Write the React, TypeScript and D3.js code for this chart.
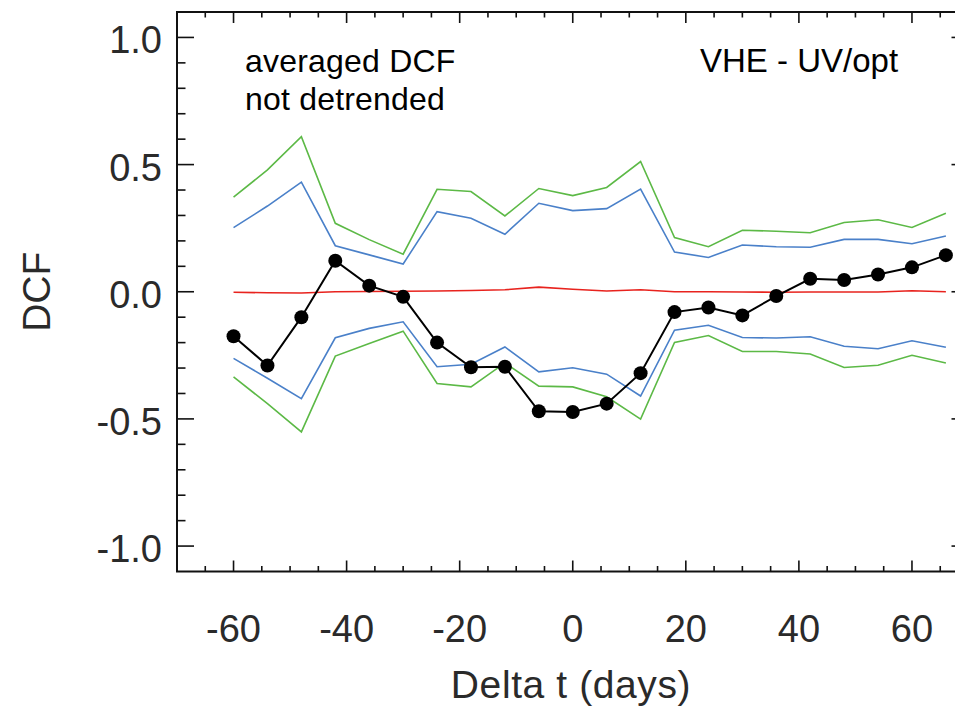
import React from "react";
import * as d3 from "d3";

const lags = [-60, -54, -48, -42, -36, -30, -24, -18, -12, -6, 0, 6, 12, 18, 24, 30, 36, 42, 48, 54, 60, 66];
const dcf = [-0.175, -0.29, -0.1, 0.122, 0.024, -0.02, -0.2, -0.297, -0.295, -0.47, -0.473, -0.44, -0.32, -0.08, -0.062, -0.093, -0.017, 0.051, 0.046, 0.068, 0.096, 0.144];
const meanSim = [-0.002, -0.004, -0.005, 0.0, 0.001, 0.002, 0.003, 0.005, 0.008, 0.018, 0.01, 0.003, 0.008, 0.0, 0.0, -0.001, -0.002, -0.001, -0.001, -0.001, 0.004, 0.0];
const blueUpper = [0.252, 0.337, 0.431, 0.181, 0.145, 0.109, 0.315, 0.289, 0.226, 0.348, 0.319, 0.327, 0.404, 0.156, 0.135, 0.184, 0.177, 0.175, 0.206, 0.206, 0.189, 0.219];
const blueLower = [-0.262, -0.34, -0.42, -0.181, -0.144, -0.118, -0.295, -0.285, -0.217, -0.315, -0.299, -0.324, -0.41, -0.151, -0.132, -0.18, -0.182, -0.177, -0.214, -0.224, -0.193, -0.218];
const greenUpper = [0.372, 0.479, 0.61, 0.269, 0.205, 0.148, 0.403, 0.394, 0.298, 0.406, 0.378, 0.41, 0.512, 0.213, 0.177, 0.242, 0.238, 0.232, 0.272, 0.283, 0.253, 0.309];
const greenLower = [-0.335, -0.44, -0.551, -0.253, -0.203, -0.155, -0.361, -0.374, -0.28, -0.371, -0.374, -0.413, -0.501, -0.199, -0.172, -0.235, -0.235, -0.245, -0.298, -0.289, -0.25, -0.28];

const xMajorTicks = [-60, -40, -20, 0, 20, 40, 60];
const xTickLabels = ["-60", "-40", "-20", "0", "20", "40", "60"];
const yMajorTicks = [-1.0, -0.5, 0.0, 0.5, 1.0];
const yTickLabels = ["-1.0", "-0.5", "0.0", "0.5", "1.0"];

const FONT = "'Liberation Sans', Arial, Helvetica, sans-serif";

export default function App() {
  const W = 955, H = 710;
  const x = d3.scaleLinear().domain([-70, 70]).range([177, 968.5]);
  const y = d3.scaleLinear().domain([-1.1, 1.1]).range([571.5, 12]);
  const [x0, x1] = x.range();
  const [yb, yt] = y.range();

  const mk = (vals: number[]) =>
    d3.line<number>().x((_, i) => x(lags[i])).y((v) => y(v))(vals) || "";

  const xMinor = d3.range(-70, 71, 5).filter((v) => !xMajorTicks.includes(v) && v > -70 && v < 70);
  const yMinor = d3.range(-11, 12, 1).map((v) => v / 10).filter((v) => Math.abs(v) < 1.1 - 1e-9 && Math.abs(v * 2 - Math.round(v * 2)) > 1e-9);

  const axisColor = "#111";
  return (
    <svg width={W} height={H} style={{ position: "absolute", left: 0, top: 0, background: "#fff" }} fontFamily={FONT}>
      <rect x={0} y={0} width={W} height={H} fill="#fff" />
      {/* series */}
      <path d={mk(greenUpper)} fill="none" stroke="#5cb946" strokeWidth={1.6} />
      <path d={mk(greenLower)} fill="none" stroke="#5cb946" strokeWidth={1.6} />
      <path d={mk(blueUpper)} fill="none" stroke="#4a80c9" strokeWidth={1.6} />
      <path d={mk(blueLower)} fill="none" stroke="#4a80c9" strokeWidth={1.6} />
      <path d={mk(meanSim)} fill="none" stroke="#e8231e" strokeWidth={1.6} />
      <path d={mk(dcf)} fill="none" stroke="#000" strokeWidth={2} />
      {dcf.map((v, i) => (
        <circle key={i} cx={x(lags[i])} cy={y(v)} r={7} fill="#000" />
      ))}
      {/* frame */}
      <rect x={x0} y={yt} width={x1 - x0} height={yb - yt} fill="none" stroke={axisColor} strokeWidth={2} />
      {/* x ticks */}
      {xMajorTicks.map((t) => (
        <g key={"xm" + t}>
          <line x1={x(t)} x2={x(t)} y1={yb} y2={yb - 11} stroke={axisColor} strokeWidth={1.6} />
          <line x1={x(t)} x2={x(t)} y1={yt} y2={yt + 11} stroke={axisColor} strokeWidth={1.6} />
        </g>
      ))}
      {xMinor.map((t) => (
        <g key={"xn" + t}>
          <line x1={x(t)} x2={x(t)} y1={yb} y2={yb - 5.5} stroke={axisColor} strokeWidth={1.6} />
          <line x1={x(t)} x2={x(t)} y1={yt} y2={yt + 5.5} stroke={axisColor} strokeWidth={1.6} />
        </g>
      ))}
      {/* y ticks */}
      {yMajorTicks.map((t) => (
        <g key={"ym" + t}>
          <line x1={x0} x2={x0 + 17} y1={y(t)} y2={y(t)} stroke={axisColor} strokeWidth={1.6} />
          <line x1={x1} x2={x1 - 17} y1={y(t)} y2={y(t)} stroke={axisColor} strokeWidth={1.6} />
        </g>
      ))}
      {yMinor.map((t) => (
        <g key={"yn" + t}>
          <line x1={x0} x2={x0 + 8.5} y1={y(t)} y2={y(t)} stroke={axisColor} strokeWidth={1.6} />
          <line x1={x1} x2={x1 - 8.5} y1={y(t)} y2={y(t)} stroke={axisColor} strokeWidth={1.6} />
        </g>
      ))}
      {/* tick labels */}
      {xMajorTicks.map((t, i) => (
        <text key={"xl" + t} x={x(t)} y={642} textAnchor="middle" fontSize={38} fill="#2a2a2a">
          {xTickLabels[i]}
        </text>
      ))}
      {yMajorTicks.map((t, i) => (
        <text key={"yl" + t} x={162} y={y(t) + 16} textAnchor="end" fontSize={38} fill="#2a2a2a">
          {yTickLabels[i]}
        </text>
      ))}
      {/* axis titles */}
      <text x={571} y={698} textAnchor="middle" fontSize={39} letterSpacing={0.6} fill="#2a2a2a">Delta t (days)</text>
      <text transform={`translate(50, ${y(0)}) rotate(-90)`} textAnchor="middle" fontSize={39} fill="#2a2a2a">DCF</text>
      {/* annotations */}
      <text x={245} y={72} fontSize={32} letterSpacing={0.2} fill="#000">averaged DCF</text>
      <text x={245} y={110} fontSize={32} letterSpacing={0.2} fill="#000">not detrended</text>
      <text x={700} y={72} fontSize={33} fill="#000">VHE - UV/opt</text>
    </svg>
  );
}
